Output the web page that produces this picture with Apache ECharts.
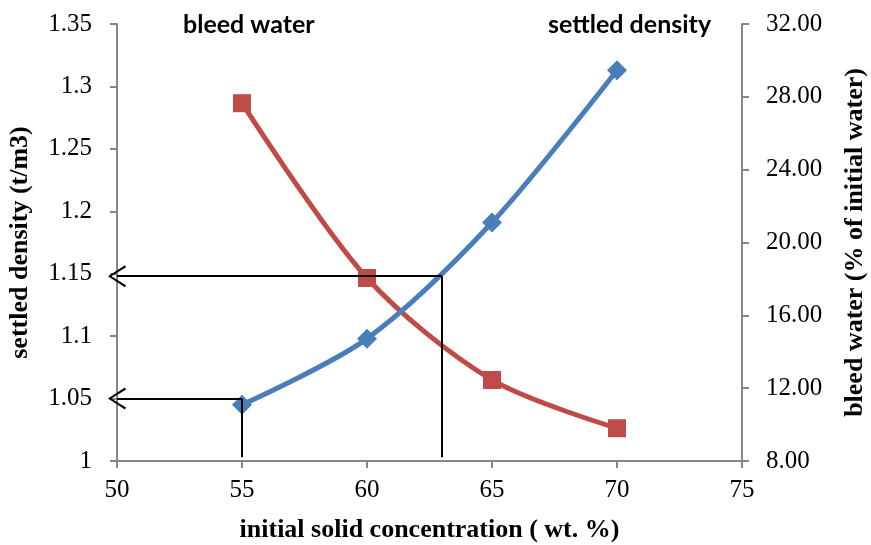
<!DOCTYPE html>
<html><head><meta charset="utf-8">
<script src="https://cdn.jsdelivr.net/npm/echarts@6/dist/echarts.min.js"></script>
<style>html,body{margin:0;padding:0;background:#fff}#c{width:871px;height:545px}</style>
</head><body><div id="c"></div>
<script>
const concentration = [55, 60, 65, 70];
const settledDensity = [1.045, 1.098, 1.191, 1.313];
const bleedWater = [27.65, 18.05, 12.45, 9.8];
// annotation guide lines: [x, y]
const guideHigh = [63, 1.148];
const guideLow = [55, 1.05];
const guideBase = 1.003;

const chart = echarts.init(document.getElementById('c'));
const serif = '"Liberation Serif", "Times New Roman", serif';
const chevron = 'path://M10,0 L20,16 L18.2,17 L10,3.2 L1.8,17 L0,16 Z';
const axisGray = '#868686';
chart.setOption({
  animation: false,
  grid: {left: 117, right: 129, top: 24, bottom: 84, containLabel: false, outerBoundsMode: 'none'},
  xAxis: {
    type: 'value', min: 50, max: 75, interval: 5,
    name: 'initial solid concentration ( wt. %)', nameLocation: 'middle', nameGap: 56,
    nameTextStyle: {fontFamily: serif, fontWeight: 'bold', fontSize: 26, color: '#000'},
    axisLine: {lineStyle: {color: axisGray, width: 2}},
    axisTick: {show: true, length: 7, lineStyle: {color: axisGray, width: 2}},
    axisLabel: {fontFamily: serif, fontSize: 25, color: '#000', margin: 17},
    splitLine: {show: false}
  },
  yAxis: [{
    type: 'value', min: 1, max: 1.35, interval: 0.05,
    name: 'settled density (t/m3)', nameLocation: 'middle', nameGap: 84, nameRotate: 90,
    nameTextStyle: {fontFamily: serif, fontWeight: 'bold', fontSize: 26, color: '#000'},
    axisLine: {show: true, lineStyle: {color: axisGray, width: 2}},
    axisTick: {show: true, length: 7, lineStyle: {color: axisGray, width: 2}},
    axisLabel: {fontFamily: serif, fontSize: 25, color: '#000', margin: 25,
      formatter: v => String(parseFloat(v.toFixed(2)))},
    splitLine: {show: false}
  }, {
    type: 'value', min: 8, max: 32, interval: 4, position: 'right',
    name: 'bleed water (% of initial water)', nameLocation: 'middle', nameGap: 100, nameRotate: 90,
    nameTextStyle: {fontFamily: serif, fontWeight: 'bold', fontSize: 26, color: '#000'},
    axisLine: {show: true, lineStyle: {color: axisGray, width: 2}},
    axisTick: {show: true, length: 7, lineStyle: {color: axisGray, width: 2}},
    axisLabel: {fontFamily: serif, fontSize: 25, color: '#000', margin: 24,
      formatter: v => v.toFixed(2)},
    splitLine: {show: false}
  }],
  graphic: [
    {type: 'text', left: 183, top: 12, style: {text: 'bleed water', font: 'bold 25px Lato, "Open Sans", sans-serif', fill: '#000'}},
    {type: 'text', left: 548, top: 12, style: {text: 'settled density', font: 'bold 25px Lato, "Open Sans", sans-serif', fill: '#000'}}
  ],
  series: [{
    name: 'settled density', type: 'line', yAxisIndex: 0, smooth: 0.3,
    data: concentration.map((x, i) => [x, settledDensity[i]]),
    symbol: 'diamond', symbolSize: 20,
    lineStyle: {color: '#4A7EBB', width: 5},
    itemStyle: {color: '#4A7EBB'},
    z: 3,
    markLine: {
      silent: true, animation: false,
      label: {show: false},
      lineStyle: {color: '#000', width: 2, type: 'solid'},
      data: [
        [{coord: [guideHigh[0], guideHigh[1]], symbol: 'none'}, {coord: [50, guideHigh[1]], symbol: chevron, symbolSize: [22, 18]}],
        [{coord: [guideHigh[0], guideHigh[1]], symbol: 'none'}, {coord: [guideHigh[0], guideBase], symbol: 'none'}],
        [{coord: [guideLow[0], guideLow[1]], symbol: 'none'}, {coord: [50, guideLow[1]], symbol: chevron, symbolSize: [22, 18]}],
        [{coord: [guideLow[0], guideLow[1]], symbol: 'none'}, {coord: [guideLow[0], guideBase], symbol: 'none'}]
      ]
    }
  }, {
    name: 'bleed water', type: 'line', yAxisIndex: 1, smooth: 0.3,
    data: concentration.map((x, i) => [x, bleedWater[i]]),
    symbol: 'rect', symbolSize: 18,
    lineStyle: {color: '#BE4B48', width: 5},
    itemStyle: {color: '#BE4B48'},
    z: 2
  }]
});
</script></body></html>
